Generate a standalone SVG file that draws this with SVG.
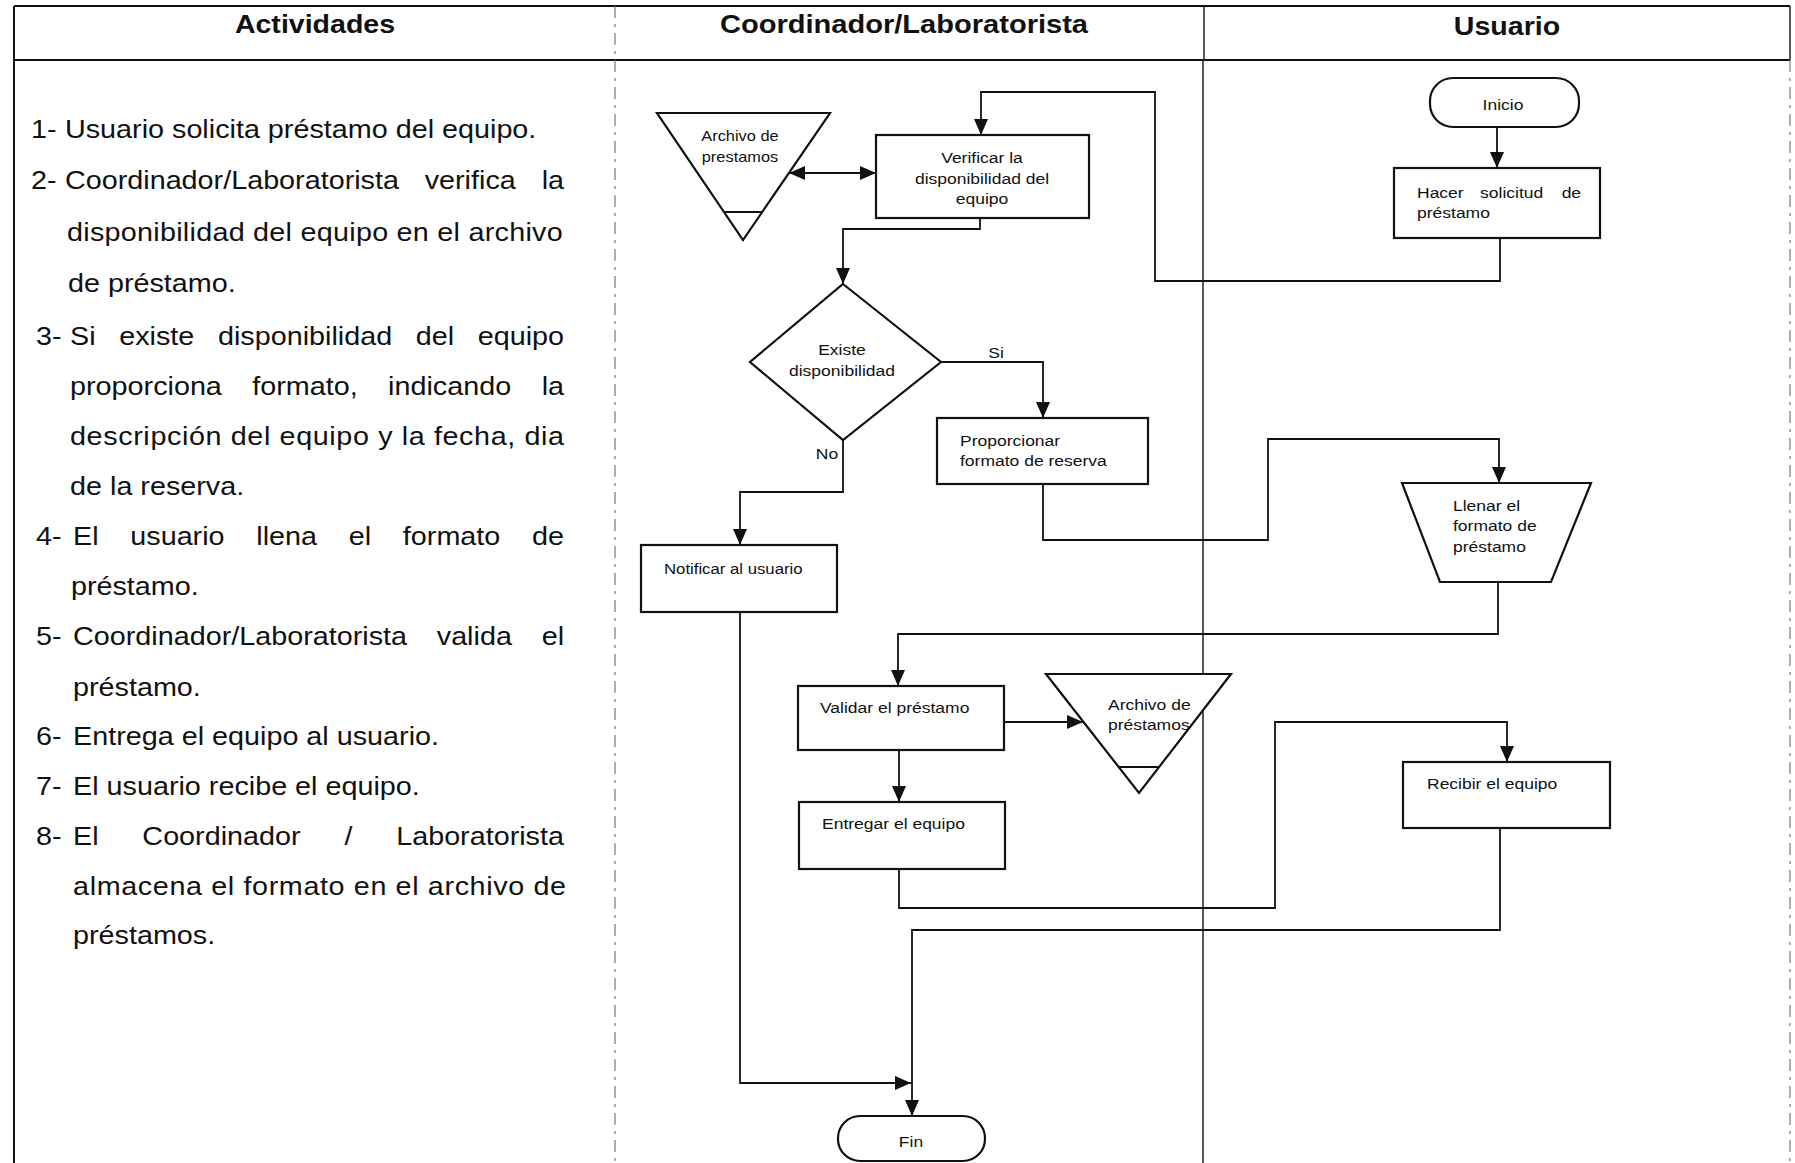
<svg xmlns="http://www.w3.org/2000/svg" width="1795" height="1163" viewBox="0 0 1795 1163">
  <defs>
    <marker id="arrow" viewBox="0 0 16 14" refX="16" refY="7" markerWidth="16" markerHeight="14" markerUnits="userSpaceOnUse" orient="auto-start-reverse">
      <path d="M0,0 L16,7 L0,14 z" fill="#111"/>
    </marker>
    <style>
      text { font-family: "Liberation Sans", Arial, sans-serif; fill: #111; }
      .hdr { font-size: 25.5px; font-weight: bold; text-anchor: middle; }
      .act { font-size: 25px; fill: #1c1c1c; }
      .lbl { font-size: 15.5px; }
      .sm { font-size: 14.5px; }
      .mid { text-anchor: middle; }
      .shape { fill: #fff; stroke: #111; stroke-width: 2.2; }
      .conn { fill: none; stroke: #111; stroke-width: 1.8; }
      .arr { marker-end: url(#arrow); }
      .frame { stroke: #111; stroke-width: 2; fill: none; }
      .lane { stroke: #222; stroke-width: 1.5; fill: none; }
      .faint { stroke: #777; stroke-width: 1.2; fill: none; stroke-dasharray: 12 6 3 6; }
    </style>
  </defs>

  <rect width="1795" height="1163" fill="#fff"/>

  <!-- table frame and lanes -->
  <g id="frame">
    <line class="frame" x1="14" y1="6" x2="1790" y2="6"/>
    <line class="frame" x1="14" y1="60" x2="1790" y2="60" stroke-width="2.5"/>
    <line class="frame" x1="14" y1="6" x2="14" y2="1163"/>
    <line class="faint" x1="615" y1="6" x2="615" y2="1163"/>
    <line class="lane" x1="1204" y1="6" x2="1204" y2="60"/>
    <line class="lane" x1="1203" y1="60" x2="1203" y2="1163"/>
    <line class="lane" x1="1790" y1="6" x2="1790" y2="60"/>
    <line class="faint" x1="1790" y1="60" x2="1790" y2="1163" stroke-dasharray="10 12"/>
  </g>

  <!-- column headings -->
  <g id="headings">
    <text class="hdr" transform="translate(315 33) scale(1.12 1)">Actividades</text>
    <text class="hdr" transform="translate(904 33) scale(1.14 1)">Coordinador/Laboratorista</text>
    <text class="hdr" transform="translate(1507 35) scale(1.12 1)">Usuario</text>
  </g>

  <!-- numbered activity list (horizontally widened type, justified lines set word by word) -->
  <g id="activities" class="act" transform="scale(1.15 1)">
    <text y="138"><tspan x="27">1-</tspan><tspan x="56.5">Usuario solicita préstamo del equipo.</tspan></text>
    <text y="189"><tspan x="27">2-</tspan><tspan x="56.5">Coordinador/Laboratorista</tspan><tspan x="369.3">verifica</tspan><tspan x="471">la</tspan></text>
    <text x="58.3" y="241" textLength="431" lengthAdjust="spacing">disponibilidad del equipo en el archivo</text>
    <text x="59.1" y="292">de préstamo.</text>
    <text y="345"><tspan x="31.3">3-</tspan><tspan x="60.9">Si</tspan><tspan x="103.7">existe</tspan><tspan x="189.5">disponibilidad</tspan><tspan x="361.5">del</tspan><tspan x="415.4">equipo</tspan></text>
    <text y="395"><tspan x="60.9">proporciona</tspan><tspan x="219.3">formato,</tspan><tspan x="337.5">indicando</tspan><tspan x="471">la</tspan></text>
    <text x="60.9" y="445" textLength="429.6" lengthAdjust="spacing">descripción del equipo y la fecha, dia</text>
    <text x="60.9" y="495">de la reserva.</text>
    <text y="545"><tspan x="31.3">4-</tspan><tspan x="63.5">El</tspan><tspan x="113.3">usuario</tspan><tspan x="222.9">llena</tspan><tspan x="303.2">el</tspan><tspan x="350.3">formato</tspan><tspan x="462.6">de</tspan></text>
    <text x="61.7" y="595">préstamo.</text>
    <text y="645"><tspan x="31.3">5-</tspan><tspan x="63.5">Coordinador/Laboratorista</tspan><tspan x="379.8">valida</tspan><tspan x="471">el</tspan></text>
    <text x="63.5" y="696">préstamo.</text>
    <text y="745"><tspan x="31.3">6-</tspan><tspan x="63.5">Entrega el equipo al usuario.</tspan></text>
    <text y="795"><tspan x="31.3">7-</tspan><tspan x="63.5">El usuario recibe el equipo.</tspan></text>
    <text y="845"><tspan x="31.3">8-</tspan><tspan x="63.5">El</tspan><tspan x="123.8">Coordinador</tspan><tspan x="299.5">/</tspan><tspan x="344.5">Laboratorista</tspan></text>
    <text x="63.5" y="895" textLength="428.7" lengthAdjust="spacing">almacena el formato en el archivo de</text>
    <text x="63.5" y="944">préstamos.</text>
  </g>

  <!-- connectors -->
  <g id="connectors">
    <path class="conn arr" d="M1497,127 V168"/>
    <path class="conn arr" d="M1500,238 V281 H1155 V92 H981 V135"/>
    <path class="conn arr" d="M789,173 H876" marker-start="url(#arrow)"/>
    <path class="conn arr" d="M980,218 V229 H843 V284"/>
    <path class="conn arr" d="M941,362 H1043 V418"/>
    <path class="conn arr" d="M843,440 V492 H740 V545"/>
    <path class="conn arr" d="M1043,484 V540 H1268 V439 H1499 V483"/>
    <path class="conn arr" d="M1498,582 V634 H898 V686"/>
    <path class="conn arr" d="M1004,722 H1083"/>
    <path class="conn arr" d="M899,750 V802"/>
    <path class="conn arr" d="M899,869 V908 H1275 V722 H1507 V762"/>
    <path class="conn arr" d="M740,612 V1083 H911"/>
    <path class="conn arr" d="M1500,828 V930 H912 V1116"/>
  </g>

  <!-- flow nodes -->
  <g id="inicio">
    <rect class="shape" x="1430" y="78" width="149" height="49" rx="23"/>
    <text class="lbl mid" transform="translate(1503 110) scale(1.13 1)">Inicio</text>
  </g>

  <g id="hacer-solicitud">
    <rect class="shape" x="1394" y="168" width="206" height="70"/>
    <text class="lbl" transform="translate(1417 198) scale(1.13 1)"><tspan x="0">Hacer</tspan><tspan x="55.8">solicitud</tspan><tspan x="128">de</tspan><tspan x="0" y="20">préstamo</tspan></text>
  </g>

  <g id="archivo-consulta">
    <polygon class="shape" points="657,113 830,113 743,240"/>
    <line class="conn" x1="724" y1="212" x2="762" y2="212" stroke-width="2"/>
    <text class="sm mid" transform="translate(740 141) scale(1.13 1)"><tspan x="0">Archivo de</tspan><tspan x="0" y="21">prestamos</tspan></text>
  </g>

  <g id="verificar">
    <rect class="shape" x="876" y="135" width="213" height="83"/>
    <text class="lbl mid" transform="translate(982 163) scale(1.13 1)"><tspan x="0">Verificar la</tspan><tspan x="0" y="21">disponibilidad del</tspan><tspan x="0" y="41">equipo</tspan></text>
  </g>

  <g id="existe-disponibilidad">
    <polygon class="shape" points="843,284 941,362 843,440 750,362"/>
    <text class="lbl mid" transform="translate(842 355) scale(1.13 1)"><tspan x="0">Existe</tspan><tspan x="0" y="21">disponibilidad</tspan></text>
    <text class="lbl mid" transform="translate(996 358) scale(1.13 1)">Si</text>
    <text class="lbl mid" transform="translate(827 459) scale(1.13 1)">No</text>
  </g>

  <g id="proporcionar">
    <rect class="shape" x="937" y="418" width="211" height="66"/>
    <text class="lbl" transform="translate(960 446) scale(1.13 1)"><tspan x="0">Proporcionar</tspan><tspan x="0" y="20">formato de reserva</tspan></text>
  </g>

  <g id="notificar">
    <rect class="shape" x="641" y="545" width="196" height="67"/>
    <text class="lbl" transform="translate(664 574) scale(1.08 1)">Notificar al usuario</text>
  </g>

  <g id="llenar-formato">
    <polygon class="shape" points="1402,483 1591,483 1551,582 1440,582"/>
    <text class="lbl" transform="translate(1453 511) scale(1.13 1)"><tspan x="0">Llenar el</tspan><tspan x="0" y="20">formato de</tspan><tspan x="0" y="41">préstamo</tspan></text>
  </g>

  <g id="validar">
    <rect class="shape" x="798" y="686" width="206" height="64"/>
    <text class="lbl" transform="translate(820 713) scale(1.13 1)">Validar el préstamo</text>
  </g>

  <g id="archivo-registro">
    <polygon class="shape" points="1046,674 1231,674 1139,793"/>
    <line class="conn" x1="1119" y1="767" x2="1159" y2="767" stroke-width="2"/>
    <text class="lbl" transform="translate(1108 710) scale(1.13 1)"><tspan x="0">Archivo de</tspan><tspan x="0" y="20">préstamos</tspan></text>
  </g>

  <g id="entregar">
    <rect class="shape" x="799" y="802" width="206" height="67"/>
    <text class="lbl" transform="translate(822 829) scale(1.13 1)">Entregar el equipo</text>
  </g>

  <g id="recibir">
    <rect class="shape" x="1403" y="762" width="207" height="66"/>
    <text class="lbl" transform="translate(1427 789) scale(1.13 1)">Recibir el equipo</text>
  </g>

  <g id="fin">
    <rect class="shape" x="838" y="1116" width="147" height="45" rx="22"/>
    <text class="lbl mid" transform="translate(911 1147) scale(1.13 1)">Fin</text>
  </g>
</svg>
